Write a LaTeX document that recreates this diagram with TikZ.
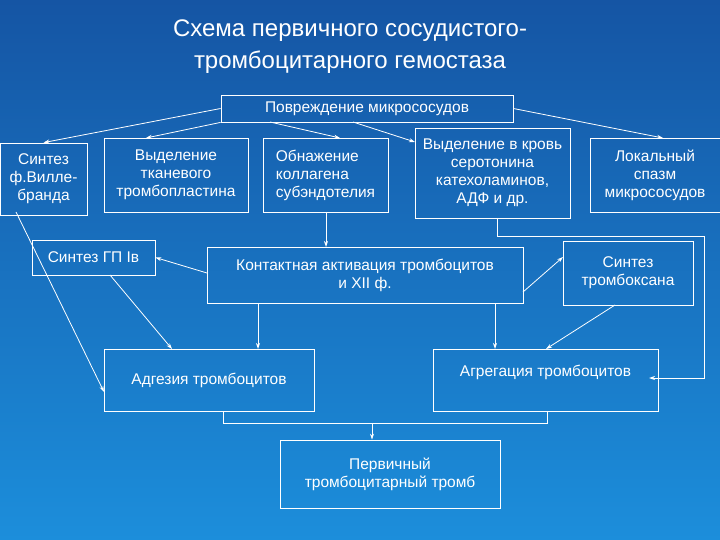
\documentclass[tikz,border=0pt]{standalone}
\usepackage{fontspec}
\setmainfont{Liberation Sans}
\usetikzlibrary{arrows.meta}
\definecolor{bgtop}{HTML}{1555A4}
\definecolor{bgbot}{HTML}{1C8EDB}
\tikzset{box/.style={draw=white,line width=0.8pt,text=white,align=center,inner sep=1pt,font=\fontsize{15.5}{18}\selectfont},
  link/.style={draw=white,line width=0.8pt,-{Stealth[length=6pt,width=4pt]}}}

\begin{document}
\begin{tikzpicture}[x=1pt,y=-1pt]
            \shade[top color=bgtop,bottom color=bgbot] (0,0) rectangle (720,540);
            \useasboundingbox (0,0) rectangle (720,540);
            \node (title) at (350,47) [text=white,align=center,font=\fontsize{24}{32}\selectfont] {Схема первичного сосудистого-\\тромбоцитарного гемостаза};

            \node (dmg) at (367,108.5) [box,minimum width=292,minimum height=27] {Повреждение микрососудов};
            \node (vill) at (43.5,179) [box,minimum width=87,minimum height=72] {Синтез\\ф.Вилле-\\бранда};
            \node (tkan) at (176,175) [box,minimum width=144,minimum height=74] {Выделение\\тканевого\\тромбопластина};
            \node (koll) at (325.5,175) [box,minimum width=125,minimum height=74,align=left] {Обнажение\\коллагена\\субэндотелия};
            \node (krov) at (492.5,173) [box,minimum width=155,minimum height=90] {Выделение в кровь\\серотонина\\катехоламинов,\\АДФ и др.};
            \node (spazm) at (655,175) [box,minimum width=130,minimum height=74] {Локальный\\спазм\\микрососудов};
            \node (gp) at (93.5,257.5) [box,minimum width=123,minimum height=35] {Синтез ГП Iв};
            \node (kont) at (365,275) [box,minimum width=316,minimum height=56] {Контактная активация тромбоцитов\\и XII ф.};
            \node (tbx) at (628,273) [box,minimum width=130,minimum height=64] {Синтез\\тромбоксана};
            \node (adg) at (209,380.5) [box,minimum width=210,minimum height=62] {Адгезия тромбоцитов};
            \node (agr) at (545.5,380) [box,minimum width=225,minimum height=62,text depth=18pt] {Агрегация тромбоцитов};
            \node (perv) at (390,474) [box,minimum width=220,minimum height=68] {Первичный\\тромбоцитарный тромб};
            \coordinate (join) at (372,423);

            \draw[link] (dmg.west) -- (vill.north);
            \draw[link] (dmg.south west) -- (146,138);
            \draw[link] (270,122) -- (340,138);
            \draw[link] (353,122) -- (415,142);
            \draw[link] (dmg.east) -- (663,138);
            \draw[link] (326,212) -- (326,247);
            \draw[link] (207,273) -- (gp.east);
            \draw[link] (523,292) -- (563,257);
            \draw[link] (497,218) -- (497,236) -- (704,236) -- (704,378) -- (649,378);
            \draw[link] (16,212) -- (104,392);
            \draw[link] (110,275) -- (172,349);
            \draw[link] (258,303) -- (258,349);
            \draw[link] (495,303) -- (495,349);
            \draw[link] (615,305) -- (546,349);
            \draw[line width=0.8pt,white] (223,411) -- (223,423) -- (547,423) -- (547,411);
            \draw[link] (join) -- (join |- perv.north);
        \end{tikzpicture}
\end{document}
